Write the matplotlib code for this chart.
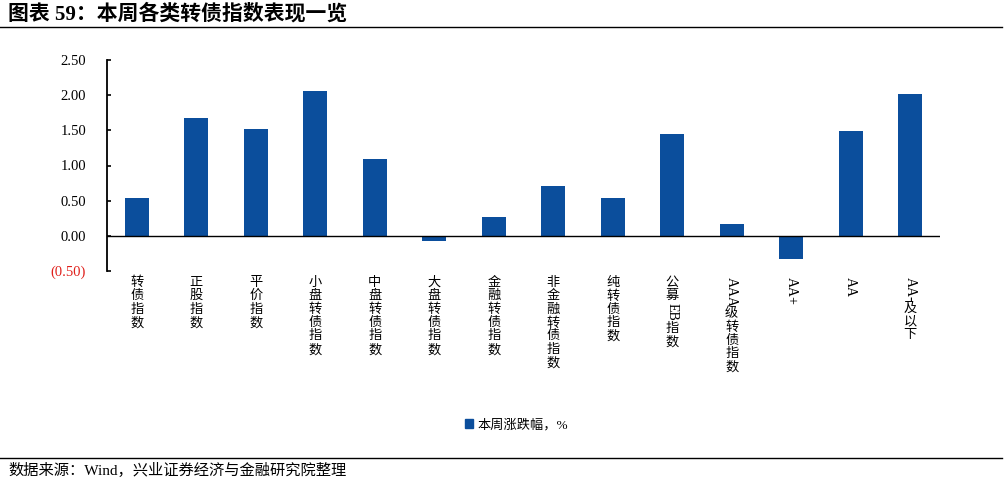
import matplotlib
matplotlib.use("Agg")
import matplotlib.pyplot as plt
from matplotlib.lines import Line2D
from matplotlib.patches import Patch
import matplotlib.transforms as mtransforms

categories = ["转债指数", "正股指数", "平价指数", "小盘转债指数", "中盘转债指数", "大盘转债指数",
              "金融转债指数", "非金融转债指数", "纯转债指数", "公募EB指数", "AAA级转债指数",
              "AA+", "AA", "AA-及以下"]
values = [0.54, 1.68, 1.52, 2.06, 1.09, -0.07, 0.27, 0.71, 0.54, 1.45, 0.17, -0.33, 1.49, 2.02]
yticks = [-0.5, 0.0, 0.5, 1.0, 1.5, 2.0, 2.5]
series_name = "本周涨跌幅，%"
title = "图表 59：本周各类转债指数表现一览"
source = "数据来源：Wind，兴业证券经济与金融研究院整理"

BAR = "#0B4E9C"
CJK = ["Liberation Serif", "Noto Sans CJK SC"]
SERIF = ["Liberation Serif", "DejaVu Serif"]

fig = plt.figure(figsize=(10.07, 4.83), dpi=100)
ax = fig.add_axes([107/1007, 1-271/483, (940-107)/1007, (271-60)/483])

x = list(range(len(categories)))
ax.bar(x, values, width=0.4, color=BAR, label=series_name, zorder=2)
ax.axhline(0, color="black", lw=1.0, zorder=3)
ax.set_xlim(-0.5, len(categories)-0.5)
ax.set_ylim(-0.5, 2.5)
ax.set_yticks(yticks)
labels = []
for v in yticks:
    labels.append("(%.2f)" % abs(v) if v < 0 else "%.2f" % v)
ax.set_yticklabels(labels, fontfamily=SERIF, fontsize=10.5)
for t, v in zip(ax.get_yticklabels(), yticks):
    if v < 0:
        t.set_color("#E0201B")
ax.tick_params(axis="y", direction="in", length=3, width=1.2, pad=15)
ax.set_xticks([])
for s in ["top", "right", "bottom"]:
    ax.spines[s].set_visible(False)
ax.spines["left"].set_linewidth(1.3)

# vertical stacked category labels
renderer = fig.canvas.get_renderer()
trans = mtransforms.blended_transform_factory(ax.transData, ax.transAxes)
fs = 9.5
def segments(s):
    segs = []
    buf = ""
    for ch in s:
        if ord(ch) < 128:
            buf += ch
        else:
            if buf:
                segs.append(("lat", buf)); buf = ""
            segs.append(("cjk", ch))
    if buf:
        segs.append(("lat", buf))
    return segs

for i, lab in enumerate(categories):
    cursor = 4.0
    for kind, seg in segments(lab):
        if kind == "cjk":
            ax.annotate(seg, xy=(i, 0), xycoords=trans, xytext=(0, -cursor),
                        textcoords="offset points", ha="center", va="top",
                        fontsize=fs, fontfamily=CJK, annotation_clip=False)
            cursor += fs * 1.02
        else:
            t = ax.annotate(seg, xy=(i, 0), xycoords=trans, xytext=(0, -cursor),
                            textcoords="offset points", ha="center", va="top",
                            rotation=-90, fontsize=fs+0.5, fontfamily=SERIF,
                            annotation_clip=False)
            bb = t.get_window_extent(renderer=renderer)
            cursor += bb.height * 72 / fig.dpi + 1

leg = fig.legend(handles=[Patch(color=BAR, label=series_name)], loc="center",
                 bbox_to_anchor=(0.513, 1-425/483), frameon=False,
                 prop={"family": CJK, "size": 9.5}, handlelength=0.6, handleheight=0.6,
                 handletextpad=0.4)

fig.text(8/1007, 1-14/483, title, fontfamily=CJK, fontsize=15, fontweight="bold",
         ha="left", va="center")
fig.add_artist(Line2D([0, 0.995], [1-27/483, 1-27/483], transform=fig.transFigure,
                      color="black", lw=1.0))
fig.add_artist(Line2D([0, 0.995], [1-458/483, 1-458/483], transform=fig.transFigure,
                      color="black", lw=1.0))
fig.text(8/1007, 1-470/483, source, fontfamily=CJK, fontsize=11, ha="left", va="center")

fig.savefig("out.png", dpi=100)
